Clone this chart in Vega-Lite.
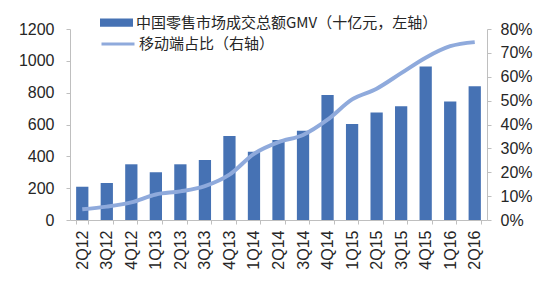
{
  "$schema": "https://vega.github.io/schema/vega-lite/v6.json",
  "width": 417,
  "height": 191,
  "autosize": {"type": "none"},
  "padding": {"left": 70, "top": 29, "right": 65, "bottom": 63},
  "background": "white",
  "config": {
    "view": {"stroke": null},
    "axis": {"labelFont": "Liberation Sans", "labelColor": "#262626", "domainColor": "#bfbfbf", "tickColor": "#bfbfbf", "grid": false, "title": null}
  },
  "data": {"values": [
    {"q": "2Q12", "gmv": 209, "share": 0.045},
    {"q": "3Q12", "gmv": 233, "share": 0.056},
    {"q": "4Q12", "gmv": 350, "share": 0.074},
    {"q": "1Q13", "gmv": 300, "share": 0.107},
    {"q": "2Q13", "gmv": 350, "share": 0.120},
    {"q": "3Q13", "gmv": 377, "share": 0.142},
    {"q": "4Q13", "gmv": 528, "share": 0.190},
    {"q": "1Q14", "gmv": 429, "share": 0.277},
    {"q": "2Q14", "gmv": 503, "share": 0.326},
    {"q": "3Q14", "gmv": 561, "share": 0.356},
    {"q": "4Q14", "gmv": 785, "share": 0.420},
    {"q": "1Q15", "gmv": 603, "share": 0.505},
    {"q": "2Q15", "gmv": 675, "share": 0.550},
    {"q": "3Q15", "gmv": 714, "share": 0.615},
    {"q": "4Q15", "gmv": 965, "share": 0.680},
    {"q": "1Q16", "gmv": 745, "share": 0.728},
    {"q": "2Q16", "gmv": 840, "share": 0.745}
  ]},
  "encoding": {
    "x": {"field": "q", "type": "nominal", "sort": null,
      "scale": {"paddingInner": 0.5, "paddingOuter": 0.25},
      "axis": {"labelAngle": -90, "labelFontSize": 16, "tickSize": 4, "tickBand": "extent", "labelPadding": 6, "labelAlign": "right", "labelBaseline": "middle"}}
  },
  "layer": [
    {
      "mark": {"type": "bar", "color": "#4672b4"},
      "encoding": {
        "y": {"field": "gmv", "type": "quantitative", "scale": {"domain": [0, 1200]},
          "axis": {"values": [0, 200, 400, 600, 800, 1000, 1200], "format": "d", "labelFontSize": 16, "tickSize": 4, "labelPadding": 12, "orient": "left"}},
        "color": {"datum": "中国零售市场成交总额GMV（十亿元，左轴）", "type": "nominal",
          "scale": {"range": ["#4672b4"]},
          "legend": {"title": null, "orient": "none", "legendX": 30, "legendY": -23, "padding": 0, "symbolType": "M-1,-0.25H1V0.25H-1Z", "symbolSize": 1089, "symbolStrokeWidth": 0, "labelFont": "Noto Sans CJK SC", "labelFontSize": 15, "labelLimit": 0, "labelColor": "#262626", "labelOffset": 3}}
      }
    },
    {
      "mark": {"type": "line", "interpolate": "monotone", "strokeWidth": 4, "color": "#8faadc"},
      "encoding": {
        "y": {"field": "share", "type": "quantitative", "scale": {"domain": [0, 0.8]},
          "axis": {"values": [0, 0.1, 0.2, 0.3, 0.4, 0.5, 0.6, 0.7, 0.8], "format": ".0%", "labelFontSize": 16, "tickSize": 4, "labelPadding": 9, "orient": "right"}},
        "stroke": {"datum": "移动端占比（右轴）", "type": "nominal",
          "scale": {"range": ["#8faadc"]},
          "legend": {"title": null, "orient": "none", "legendX": 30, "legendY": -3, "padding": 0, "symbolType": "stroke", "symbolSize": 1089, "symbolStrokeWidth": 3, "labelFont": "Noto Sans CJK SC", "labelFontSize": 15, "labelLimit": 0, "labelColor": "#262626", "labelOffset": 3}}
      }
    }
  ],
  "resolve": {"scale": {"y": "independent"}}
}
